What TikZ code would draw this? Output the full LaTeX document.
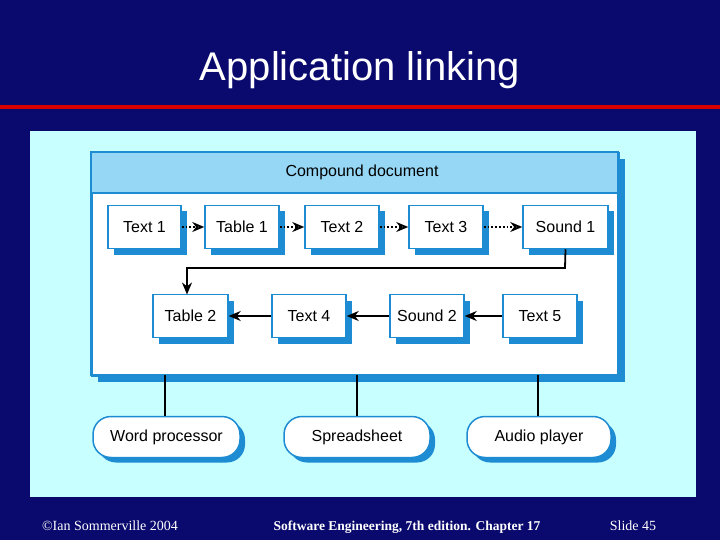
\documentclass[tikz,border=0pt]{standalone}
\usepackage{fontspec}
\setmainfont{Liberation Serif}
\newfontfamily\arial{Liberation Sans}
\usetikzlibrary{arrows.meta,shadows}
\definecolor{slideblue}{RGB}{10,10,110}
\definecolor{panelcyan}{RGB}{200,255,255}
\definecolor{boxblue}{RGB}{30,140,210}
\definecolor{headblue}{RGB}{150,215,245}
\tikzstyle{item} = [rectangle, draw=boxblue, line width=1.5pt, fill=white,
  drop shadow={shadow xshift=6pt, shadow yshift=-6pt, fill=boxblue, opacity=1},
  minimum height=43pt, inner sep=0pt, font=\arial\fontsize{16}{18}\selectfont]
\tikzstyle{app} = [rectangle, rounded corners=18pt, draw=boxblue, line width=1.5pt, fill=white,
  drop shadow={shadow xshift=5pt, shadow yshift=-5pt, fill=boxblue, opacity=1},
  minimum height=41pt, inner sep=0pt, font=\arial\fontsize{16}{18}\selectfont]
\tikzstyle{link} = [line width=1.8pt, dotted, -{Stealth[open,length=12pt,width=10pt]}]
\tikzstyle{arrow} = [line width=1.8pt, -{Stealth[length=12pt,width=10pt]}]
\begin{document}
\begin{tikzpicture}[x=1pt,y=-1pt]
\fill[slideblue] (0,0) rectangle (720,540);
\useasboundingbox (0,0) rectangle (720,540);
\node (title) [text=white, font=\arial\fontsize{40}{44}\selectfont] at (360,70) {Application linking};
\fill[red!85!black] (0,105) rectangle (720,109);
\fill[panelcyan] (30,131) rectangle (696,497);

% compound document
\node (doc) [item, minimum width=527pt, minimum height=223pt, anchor=north west] at (91,152) {};
\fill[headblue] (91.6,152.6) rectangle (617.4,193);
\draw[boxblue, line width=1.5pt] (91,152) rectangle (618,375) (91,193) -- (618,193);
\node (head) [font=\arial\fontsize{16}{18}\selectfont] at (362,172) {Compound document};

% first row
\node (t1) [item, minimum width=73pt] at (144.5,227) {Text 1};
\node (tb1) [item, minimum width=74pt] at (242,227) {Table 1};
\node (t2) [item, minimum width=74pt] at (342,227) {Text 2};
\node (t3) [item, minimum width=74pt] at (446,227) {Text 3};
\node (s1) [item, minimum width=85pt] at (565.5,227) {Sound 1};

% second row
\node (tb2) [item, minimum width=75pt] at (190.5,316) {Table 2};
\node (t4) [item, minimum width=74pt] at (309,316) {Text 4};
\node (s2) [item, minimum width=74pt] at (427,316) {Sound 2};
\node (t5) [item, minimum width=74pt] at (540,316) {Text 5};

% applications
\node (wp) [app, minimum width=147pt] at (166.5,437) {Word processor};
\node (ss) [app, minimum width=146pt] at (357,437) {Spreadsheet};
\node (ap) [app, minimum width=144pt] at (539,437) {Audio player};

\draw [link] (t1) -- (tb1);
\draw [link] (tb1) -- (t2);
\draw [link] (t2) -- (t3);
\draw [link] (t3) -- (s1);
\draw [arrow] (s1.south) -- (565,268) -- (187,268) -- (187,294.5);
\draw [arrow] (t5) -- (s2);
\draw [arrow] (s2) -- (t4);
\draw [arrow] (t4) -- (tb2);
\draw [line width=1.8pt] (165,375) -- (wp.north -| 165,0);
\draw [line width=1.8pt] (357,375) -- (ss.north);
\draw [line width=1.8pt] (538,375) -- (ap.north -| 538,0);

\node (copy) [text=white, anchor=base, font=\fontsize{14}{16}\selectfont] at (110,530) {\textcopyright Ian Sommerville 2004};
\node (book) [text=white, anchor=base, font=\bfseries\fontsize{13.5}{16}\selectfont] at (407,530) {Software Engineering, 7th edition. Chapter 17};
\node (slide) [text=white, anchor=base, font=\fontsize{14}{16}\selectfont] at (633,530) {Slide 45};
\end{tikzpicture}
\end{document}
